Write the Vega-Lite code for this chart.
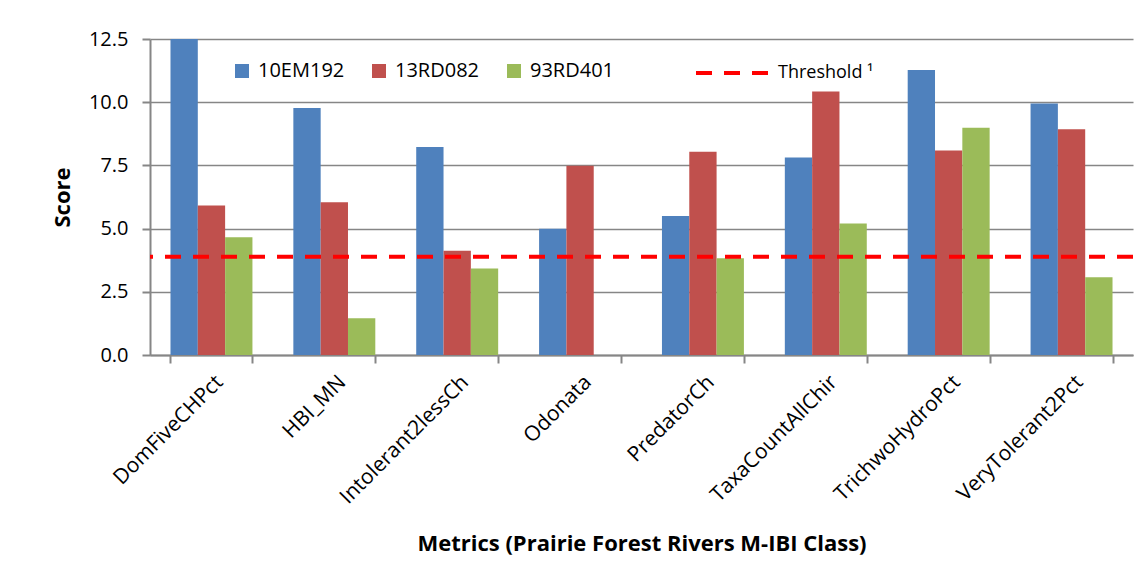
{
  "$schema": "https://vega.github.io/schema/vega-lite/v6.json",
  "width": 983,
  "height": 316,
  "autosize": "none",
  "padding": {"left": 150, "top": 39, "right": 14, "bottom": 225},
  "background": "white",
  "config": {"view": {"stroke": null}, "font": "Open Sans"},
  "datasets": {
    "bars": [
      {"metric": "DomFiveCHPct", "site": "10EM192", "score": 12.5},
      {"metric": "DomFiveCHPct", "site": "13RD082", "score": 5.91},
      {"metric": "DomFiveCHPct", "site": "93RD401", "score": 4.66},
      {"metric": "HBI_MN", "site": "10EM192", "score": 9.77},
      {"metric": "HBI_MN", "site": "13RD082", "score": 6.04},
      {"metric": "HBI_MN", "site": "93RD401", "score": 1.45},
      {"metric": "Intolerant2lessCh", "site": "10EM192", "score": 8.23},
      {"metric": "Intolerant2lessCh", "site": "13RD082", "score": 4.12},
      {"metric": "Intolerant2lessCh", "site": "93RD401", "score": 3.42},
      {"metric": "Odonata", "site": "10EM192", "score": 4.99},
      {"metric": "Odonata", "site": "13RD082", "score": 7.49},
      {"metric": "Odonata", "site": "93RD401", "score": 0},
      {"metric": "PredatorCh", "site": "10EM192", "score": 5.5},
      {"metric": "PredatorCh", "site": "13RD082", "score": 8.04},
      {"metric": "PredatorCh", "site": "93RD401", "score": 3.83},
      {"metric": "TaxaCountAllChir", "site": "10EM192", "score": 7.81},
      {"metric": "TaxaCountAllChir", "site": "13RD082", "score": 10.42},
      {"metric": "TaxaCountAllChir", "site": "93RD401", "score": 5.2},
      {"metric": "TrichwoHydroPct", "site": "10EM192", "score": 11.27},
      {"metric": "TrichwoHydroPct", "site": "13RD082", "score": 8.09},
      {"metric": "TrichwoHydroPct", "site": "93RD401", "score": 8.99},
      {"metric": "VeryTolerant2Pct", "site": "10EM192", "score": 9.95},
      {"metric": "VeryTolerant2Pct", "site": "13RD082", "score": 8.93},
      {"metric": "VeryTolerant2Pct", "site": "93RD401", "score": 3.08}
    ],
    "threshold": [
      {"label": "Threshold ¹", "value": 3.89}
    ]
  },
  "layer": [
    {
      "data": {"name": "bars"},
      "mark": {"type": "bar"},
      "encoding": {
        "x": {
          "field": "metric",
          "type": "nominal",
          "sort": null,
          "scale": {"paddingInner": 0.333, "paddingOuter": 0.1667},
          "axis": {
            "title": "Metrics (Prairie Forest Rivers M-IBI Class)",
            "titleFontSize": 22,
            "titleFontWeight": "bold",
            "titleColor": "#000000",
            "titlePadding": 26,
            "labelAngle": -45,
            "labelFontSize": 21,
            "labelColor": "#000000",
            "labelPadding": 8,
            "domainColor": "#868686",
            "domainWidth": 2,
            "tickColor": "#868686",
            "tickWidth": 2,
            "tickSize": 8,
            "tickBand": "extent",
            "grid": false
          }
        },
        "xOffset": {"field": "site", "type": "nominal", "sort": null},
        "y": {
          "field": "score",
          "type": "quantitative",
          "scale": {"domain": [0, 12.5], "nice": false},
          "axis": {
            "title": "Score",
            "titleFontSize": 22,
            "titleFontWeight": "bold",
            "titleColor": "#000000",
            "titlePadding": 14,
            "values": [0, 2.5, 5, 7.5, 10, 12.5],
            "format": ".1f",
            "labelFontSize": 20,
            "labelColor": "#000000",
            "labelPadding": 14,
            "domainColor": "#868686",
            "domainWidth": 2,
            "tickColor": "#868686",
            "tickWidth": 2,
            "tickSize": 8,
            "grid": true,
            "gridColor": "#868686",
            "gridWidth": 1.5
          }
        },
        "color": {
          "field": "site",
          "type": "nominal",
          "scale": {"domain": ["10EM192", "13RD082", "93RD401"], "range": ["#4F81BD", "#C0504D", "#9BBB59"]},
          "legend": {
            "title": null,
            "orient": "none",
            "direction": "horizontal",
            "legendX": 82,
            "legendY": 22,
            "symbolType": "square",
            "symbolSize": 196,
            "symbolStrokeWidth": 0,
            "labelFontSize": 20,
            "labelColor": "#000000",
            "labelOffset": 6,
            "columnPadding": 24
          }
        }
      }
    },
    {
      "data": {"name": "threshold"},
      "mark": {"type": "rule", "color": "#FF0000", "strokeWidth": 4},
      "encoding": {
        "y": {"field": "value", "type": "quantitative"},
        "strokeDash": {
          "field": "label",
          "type": "nominal",
          "scale": {"range": [[16, 12]]},
          "legend": {
            "title": null,
            "orient": "none",
            "legendX": 544,
            "legendY": -4,
            "symbolType": "stroke",
            "symbolSize": 5184,
            "symbolStrokeColor": "#FF0000",
            "symbolStrokeWidth": 4,
            "labelFontSize": 18,
            "labelColor": "#000000",
            "labelOffset": 8
          }
        }
      }
    }
  ]
}
